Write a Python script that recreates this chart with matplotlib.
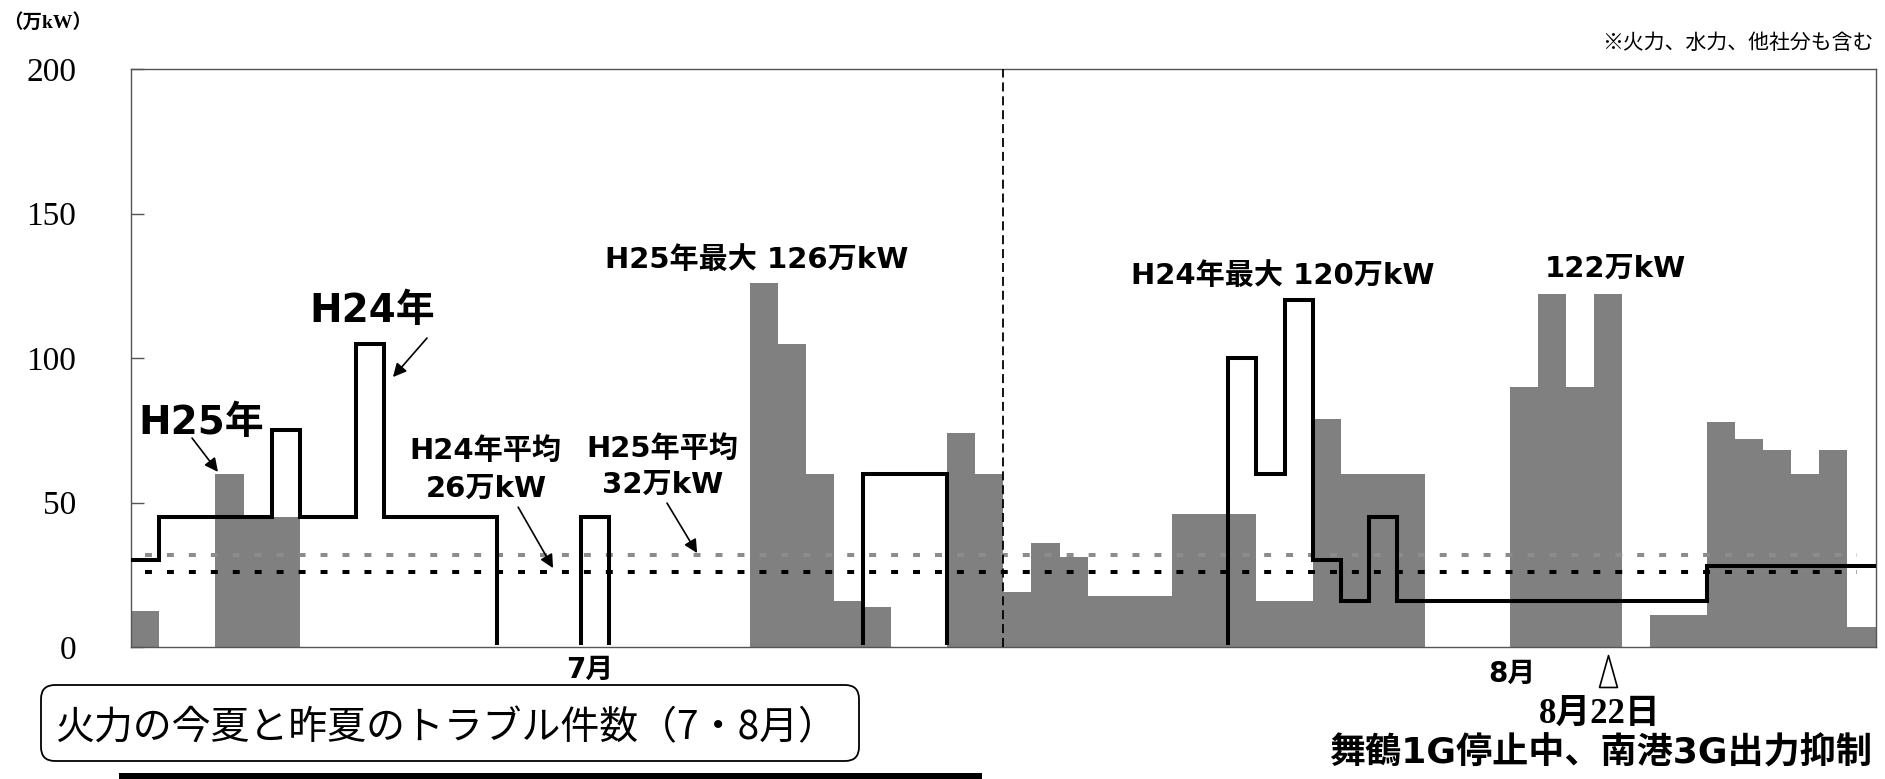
import numpy as np
import matplotlib
matplotlib.use("Agg")
import matplotlib.pyplot as plt
from matplotlib.patches import FancyBboxPatch, Rectangle
from matplotlib.path import Path
from matplotlib.transforms import IdentityTransform, blended_transform_factory

plt.rcParams['lines.scale_dashes'] = False

# 7/1 .. 8/31, one slot per day (index 0 = 7/1, 31 = 8/1)
days = np.arange(62)
edges = np.arange(63)

# H25 (this summer), 万kW per day
h25 = [12.5, 0, 0, 60, 45, 45, 0, 0, 0, 0,
       0, 0, 0, 0, 0, 0, 0, 0, 0, 0,
       0, 0, 126, 105, 60, 16, 14, 0, 0, 74,
       60,
       19, 36, 31, 17.5, 17.5, 17.5, 46, 46, 46,
       16, 16, 79, 60, 60, 60, 0, 0, 0, 90,
       122, 90, 122, 0, 11, 11, 78, 72, 68, 60,
       68, 7]

# H24 (last summer), 万kW per day
h24 = [30, 45, 45, 45, 45, 75, 45, 45, 105, 45,
       45, 45, 45, 0, 0, 0, 45, 0, 0, 0,
       0, 0, 0, 0, 0, 0, 60, 60, 60, 0,
       0,
       0, 0, 0, 0, 0, 0, 0, 0, 100,
       60, 120, 30, 16, 45, 16, 16, 16, 16, 16,
       16, 16, 16, 16, 16, 16, 28, 28, 28, 28,
       28, 28]

H24_AVG = 26
H25_AVG = 32
H25_MAX = 126
H24_MAX = 120
AUG_PEAK = 122
AUG1 = 31
AUG22 = 52

y_ticks = [0, 50, 100, 150, 200]
y_labels = ["0", "50", "100", "150", "200"]

W, H = 1885, 779
GOTHIC = ['DejaVu Sans', 'Noto Sans CJK JP']
SERIF = ['Liberation Serif', 'Noto Sans CJK JP']


def fx(px):
    return px / W


def fy(py):
    return 1 - py / H


fig = plt.figure(figsize=(W / 100, H / 100), dpi=100)
ax = fig.add_axes([fx(131), 132 / H, 1744.5 / W, 578 / H])

ax.bar(days, h25, width=1.0, align='edge', color='#808080', linewidth=0, zorder=1)

# average lines
ax.plot([0.5, 61.35], [H25_AVG, H25_AVG], color='#8c8c8c', lw=2.9,
        dashes=(5, 10.8), zorder=2)
ax.plot([0.5, 61.35], [H24_AVG, H24_AVG], color='black', lw=2.9,
        dashes=(5, 10.8), zorder=2)

# July / August boundary
ax.axvline(AUG1, color='black', lw=1.3, dashes=(6.5, 3.5), zorder=3)

# last year's steps; the stretches at zero stay hidden under the axis
step = ax.stairs(h24, edges, baseline=None, color='black', lw=2.9, zorder=4)
step.set_joinstyle('miter')
step.set_clip_path(Rectangle((0, 0.75), 62, 205, transform=ax.transData))

ax.set_xlim(0, 62)
ax.set_ylim(0, 200)
ax.set_xticks([])
ax.set_yticks(y_ticks)
ax.set_yticklabels(y_labels, fontfamily='Liberation Serif', fontsize=24)
ax.tick_params(axis='y', direction='in', length=9.5, width=1,
               color='#555555', pad=39.6)
for s in ax.spines.values():
    s.set_color('#555555')
    s.set_linewidth(1)

arrow = dict(arrowstyle='-|>', color='black', lw=1.2, mutation_scale=20,
             shrinkA=0, shrinkB=0)

ax.text(8.57, 116.3, "H24年", fontsize=28, fontweight='bold', family=GOTHIC,
        ha='center', va='center')
ax.annotate("", xy=(9.31, 93.4), xytext=(10.52, 106.9), arrowprops=arrow)

ax.text(2.49, 77.5, "H25年", fontsize=28, fontweight='bold', family=GOTHIC,
        ha='center', va='center')
ax.annotate("", xy=(3.09, 60.6), xytext=(2.17, 72.3), arrowprops=arrow)

ax.text(12.58, 67.8, "H24年平均", fontsize=21, fontweight='bold', family=GOTHIC,
        ha='center', va='center')
ax.text(12.62, 54.7, f"{H24_AVG}万kW", fontsize=21, fontweight='bold',
        family=GOTHIC, ha='center', va='center')
ax.annotate("", xy=(15.0, H24_AVG + 1.3), xytext=(13.76, 48.4), arrowprops=arrow)

ax.text(18.88, 68.5, "H25年平均", fontsize=21, fontweight='bold', family=GOTHIC,
        ha='center', va='center')
ax.text(18.88, 56.1, f"{H25_AVG}万kW", fontsize=21, fontweight='bold',
        family=GOTHIC, ha='center', va='center')
ax.annotate("", xy=(20.12, H25_AVG + 0.5), xytext=(19.05, 49.8), arrowprops=arrow)

ax.text(22.25, 133.9, f"H25年最大 {H25_MAX}万kW", fontsize=21, fontweight='bold',
        family=GOTHIC, ha='center', va='center')
ax.text(40.92, 128.4, f"H24年最大 {H24_MAX}万kW", fontsize=21, fontweight='bold',
        family=GOTHIC, ha='center', va='center')
ax.text(52.76, 130.8, f"{AUG_PEAK}万kW", fontsize=21, fontweight='bold',
        family=GOTHIC, ha='center', va='center')

# month labels under the axis
fig.text(fx(590), fy(670), "7月", fontsize=20, fontweight='bold', family=GOTHIC,
         ha='center', va='center')
fig.text(fx(1512), fy(674), "8月", fontsize=20, fontweight='bold', family=GOTHIC,
         ha='center', va='center')

# marker for 8/22
tri = Path([(-0.28, -0.5), (0.28, -0.5), (0, 0.5), (-0.28, -0.5)],
           [Path.MOVETO, Path.LINETO, Path.LINETO, Path.CLOSEPOLY])
trans = blended_transform_factory(ax.transData, ax.transAxes)
ax.plot([AUG22 + 0.5], [-0.0415], marker=tri, markersize=23, mfc='white',
        mec='black', mew=1.2, ls='none', transform=trans, clip_on=False)

fig.text(fx(1600), fy(714), "8月22日", fontsize=25, fontweight='bold',
         family=SERIF, ha='center', va='center')
fig.text(fx(1601), fy(753), "舞鶴1G停止中、南港3G出力抑制", fontsize=26,
         fontweight='bold', family=GOTHIC, ha='center', va='center')

# unit and note
fig.text(fx(48), fy(22), "（万kW）", fontsize=14, fontweight='bold',
         family=SERIF, ha='center', va='center')
fig.text(fx(1873), fy(43), "※火力、水力、他社分も含む", fontsize=15,
         family=['Noto Sans CJK JP'], ha='right', va='center')

# title box and bar below it
box = FancyBboxPatch((41, H - 761), 818, 76, boxstyle='round,pad=0,rounding_size=14',
                     transform=IdentityTransform(), facecolor='white',
                     edgecolor='black', lw=1.3)
fig.add_artist(box)
fig.text(fx(446), fy(728), "火力の今夏と昨夏のトラブル件数（7・8月）", fontsize=28,
         family=['Noto Sans CJK JP'], ha='center', va='center')
fig.add_artist(Rectangle((119, -5), 863, 11, transform=IdentityTransform(),
                         facecolor='black', edgecolor='none'))

fig.savefig("out.png", dpi=100)
